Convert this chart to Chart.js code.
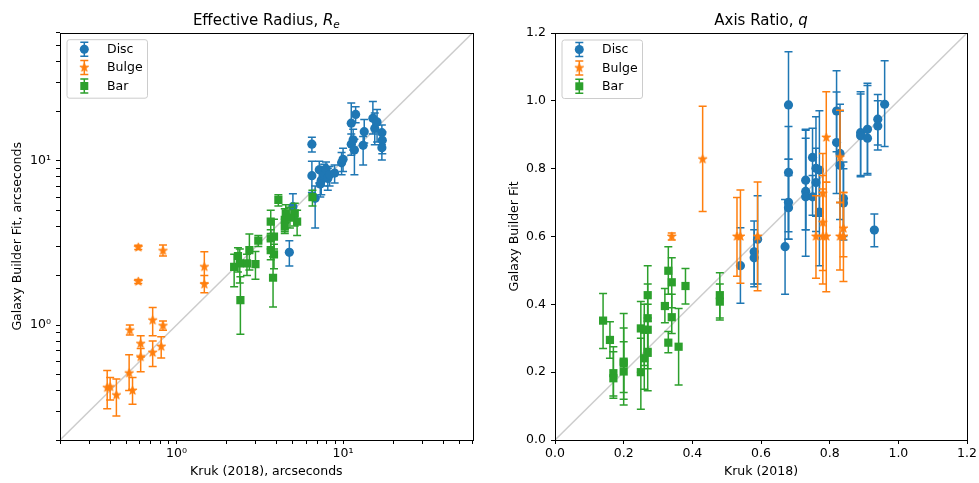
<!DOCTYPE html>
<html><head><meta charset="utf-8">
<script src="https://cdn.jsdelivr.net/npm/chart.js@4.4.1/dist/chart.umd.min.js"></script>
<style>
html,body{margin:0;padding:0;background:#fff;}
#wrap{position:relative;width:979px;height:483px;overflow:hidden;}
#c1{position:absolute;left:0;top:0;}
#c2{position:absolute;left:490px;top:0;}
</style></head><body>
<div id="wrap"><canvas id="c1" width="490" height="483"></canvas><canvas id="c2" width="489" height="483"></canvas></div>
<script>
// ---------- Effective radius (log-log) ----------
const reDiscX  = [6.5,6.5,6.8,5.0,4.76,7.2,7.4,7.7,7.9,8.1,8.3,8.9,7.3,9.8,10.0,11.2,11.2,11.7,11.9,11.5,13.2,13.4,15.1,15.5,16.0,17.1,17.2,17.1];
const reDiscY  = [12.6,8.1,5.9,5.25,2.77,8.8,7.6,8.3,8.9,7.8,8.2,8.4,7.2,9.7,10.2,16.9,12.6,11.6,19.1,13.4,12.4,15.0,18.1,15.7,17.2,14.8,13.3,12.0];
const reDiscLo = [11.3,6.4,3.9,4.5,2.29,7.3,6.2,7.0,7.5,6.6,7.0,7.3,6.0,8.2,8.6,12.5,10.8,8.2,17.0,11.6,9.4,12.8,14.5,12.5,13.0,12.5,11.0,10.1];
const reDiscHi = [13.9,9.9,7.0,6.3,3.26,9.9,9.2,9.5,9.8,9.0,9.2,9.4,8.5,11.2,11.9,22.4,14.5,13.5,21.3,15.5,14.0,17.8,22.9,19.5,20.5,16.5,15.0,13.4];

const reBulgeX  = [0.384,0.40,0.436,0.52,0.545,0.525,0.59,0.59,0.61,0.61,0.72,0.72,0.81,0.83,0.83,1.47,1.47];
const reBulgeY  = [0.416,0.42,0.375,0.51,0.40,0.93,2.97,1.84,0.77,0.64,1.07,0.68,0.74,0.99,2.83,2.26,1.77];
const reBulgeLo = [0.31,0.35,0.28,0.40,0.33,0.87,2.88,1.79,0.64,0.52,0.86,0.56,0.63,0.93,2.63,1.80,1.57];
const reBulgeHi = [0.53,0.48,0.47,0.66,0.48,1.00,3.06,1.89,0.86,0.72,1.28,0.80,0.85,1.06,3.07,2.79,2.00];

const reBarX  = [6.55,4.09,4.47,4.53,5.13,5.3,4.47,4.8,3.68,3.68,3.85,3.68,3.85,3.8,3.1,2.74,2.98,2.65,2.42,2.22,2.34,2.4];
const reBarY  = [6.0,5.77,4.36,4.78,4.78,4.26,3.97,4.5,4.26,3.37,3.45,2.86,2.69,1.94,3.26,2.86,2.35,2.37,1.42,2.26,2.63,2.37];
const reBarLo = [5.3,5.3,3.7,4.2,4.0,3.5,3.6,3.9,3.6,2.9,2.9,2.5,2.2,1.29,3.0,2.16,1.9,2.0,0.88,1.71,2.1,1.8];
const reBarHi = [6.6,6.2,5.1,5.4,5.5,5.0,4.4,5.2,5.0,3.8,4.4,3.3,3.1,2.6,3.5,3.58,2.8,2.7,1.97,2.7,2.95,2.9];

const reTickValues = [0.2,0.3,0.4,0.5,0.6,0.7,0.8,0.9,1,2,3,4,5,6,7,8,9,10,20,30,40,50,60];
const reTickLabels = {1:'10\u2070', 10:'10\u00B9'};

// ---------- Axis ratio (linear) ----------
const qDiscX  = [0.54,0.58,0.58,0.59,0.67,0.68,0.68,0.68,0.68,0.73,0.73,0.73,0.75,0.75,0.76,0.76,0.77,0.77,0.82,0.82,0.83,0.83,0.84,0.84,0.89,0.89,0.91,0.91,0.93,0.94,0.94,0.96];
const qDiscY  = [0.514,0.555,0.537,0.592,0.57,0.988,0.789,0.701,0.685,0.766,0.733,0.717,0.833,0.717,0.801,0.759,0.796,0.672,0.97,0.877,0.845,0.81,0.712,0.699,0.906,0.897,0.916,0.89,0.619,0.946,0.926,0.99];
const qDiscLo = [0.403,0.452,0.46,0.46,0.43,0.828,0.614,0.592,0.592,0.62,0.542,0.62,0.71,0.663,0.66,0.615,0.66,0.514,0.85,0.727,0.65,0.70,0.59,0.60,0.776,0.78,0.786,0.781,0.57,0.855,0.87,0.865];
const qDiscHi = [0.626,0.646,0.62,0.72,0.709,1.145,0.924,0.828,0.78,0.916,0.913,0.89,0.919,0.78,0.953,0.86,0.971,0.79,1.089,1.026,0.99,0.97,0.82,0.80,1.027,1.02,1.052,1.045,0.666,1.019,1.0,1.118];

const qBulgeX  = [0.34,0.43,0.53,0.54,0.59,0.76,0.78,0.78,0.78,0.79,0.79,0.83,0.83,0.84,0.84];
const qBulgeY  = [0.6,0.828,0.6,0.6,0.6,0.6,0.727,0.641,0.6,0.892,0.6,0.834,0.6,0.624,0.6];
const qBulgeLo = [0.59,0.674,0.483,0.462,0.44,0.477,0.6,0.5,0.46,0.76,0.437,0.70,0.501,0.467,0.54];
const qBulgeHi = [0.61,0.984,0.715,0.737,0.761,0.72,0.845,0.78,0.74,1.027,0.76,0.972,0.70,0.73,0.73];

const qBarX  = [0.14,0.16,0.17,0.17,0.20,0.20,0.20,0.25,0.25,0.26,0.26,0.27,0.27,0.27,0.27,0.32,0.33,0.33,0.34,0.34,0.36,0.38,0.48,0.48];
const qBarY  = [0.352,0.295,0.197,0.182,0.231,0.202,0.226,0.329,0.2,0.241,0.325,0.427,0.359,0.325,0.257,0.395,0.499,0.287,0.465,0.362,0.275,0.454,0.427,0.408];
const qBarLo = [0.27,0.241,0.13,0.123,0.14,0.103,0.12,0.2,0.091,0.15,0.22,0.35,0.27,0.21,0.145,0.346,0.43,0.257,0.39,0.314,0.162,0.401,0.36,0.354];
const qBarHi = [0.432,0.349,0.275,0.26,0.373,0.33,0.29,0.408,0.3,0.33,0.4,0.514,0.46,0.4,0.36,0.447,0.57,0.32,0.537,0.43,0.388,0.506,0.493,0.46];

const qTickValues = [0,0.2,0.4,0.6,0.8,1.0,1.2];

// ---------- styling ----------
const C_DISC = '#1f77b4', C_BULGE = '#ff7f0e', C_BAR = '#2ca02c';
const FONT = 'DejaVu Sans';
const FS = 12.5, TFS = 15;

function starImage(color, R) {
  const s = Math.ceil(R * 2 + 3);
  const c = document.createElement('canvas'); c.width = s; c.height = s;
  const g = c.getContext('2d');
  g.fillStyle = color; g.strokeStyle = color; g.lineWidth = 1; g.lineJoin = 'miter';
  g.beginPath();
  for (let i = 0; i < 10; i++) {
    const r = i % 2 ? R * 0.382 : R;
    const a = -Math.PI / 2 + i * Math.PI / 5;
    const px = s / 2 + r * Math.cos(a), py = s / 2 + r * Math.sin(a);
    if (i) g.lineTo(px, py); else g.moveTo(px, py);
  }
  g.closePath(); g.fill(); g.stroke();
  return c;
}
const STAR = starImage(C_BULGE, 4.6);

function pts(xs, ys) { return xs.map((x, i) => ({x: x, y: ys[i]})); }

const errorBarPlugin = {
  id: 'errorBars',
  beforeDatasetDraw(chart, args) {
    const ds = chart.data.datasets[args.index];
    if (!ds.errLo) return;
    const meta = chart.getDatasetMeta(args.index);
    const ys = chart.scales.y;
    const ctx = chart.ctx, a = chart.chartArea;
    ctx.save();
    ctx.beginPath(); ctx.rect(a.left, a.top, a.right - a.left, a.bottom - a.top); ctx.clip();
    ctx.strokeStyle = ds.backgroundColor; ctx.lineWidth = 1.5;
    meta.data.forEach((p, i) => {
      const yl = ys.getPixelForValue(ds.errLo[i]);
      const yh = ys.getPixelForValue(ds.errHi[i]);
      ctx.beginPath();
      ctx.moveTo(p.x, yl); ctx.lineTo(p.x, yh);
      ctx.moveTo(p.x - 4, yl); ctx.lineTo(p.x + 4, yl);
      ctx.moveTo(p.x - 4, yh); ctx.lineTo(p.x + 4, yh);
      ctx.stroke();
    });
    ctx.restore();
  }
};

function decorPlugin(titleParts) {
  return {
    id: 'decor',
    afterDraw(chart) {
      const ctx = chart.ctx, a = chart.chartArea;
      ctx.save();
      // frame
      ctx.strokeStyle = '#000'; ctx.lineWidth = 1;
      ctx.strokeRect(Math.round(a.left) + 0.5, Math.round(a.top) + 0.5, Math.round(a.right - a.left), Math.round(a.bottom - a.top));
      // title
      let w = 0;
      titleParts.forEach(p => { ctx.font = p.f; p.w = ctx.measureText(p.t).width; w += p.w; });
      let x = (a.left + a.right) / 2 - w / 2;
      ctx.fillStyle = '#000'; ctx.textBaseline = 'alphabetic'; ctx.textAlign = 'left';
      titleParts.forEach(p => { ctx.font = p.f; ctx.fillText(p.t, x, 25 + (p.dy || 0)); x += p.w; });
      // legend
      const lx = a.left + 6.5, ly = a.top + 6.5, lw = 80.5, lh = 58.5;
      ctx.beginPath();
      if (ctx.roundRect) ctx.roundRect(lx + 0.5, ly + 0.5, lw, lh, 2.5); else ctx.rect(lx + 0.5, ly + 0.5, lw, lh);
      ctx.fillStyle = 'rgba(255,255,255,0.8)'; ctx.fill();
      ctx.strokeStyle = '#cccccc'; ctx.lineWidth = 1; ctx.stroke();
      const entries = [['Disc', C_DISC, 'circle'], ['Bulge', C_BULGE, 'star'], ['Bar', C_BAR, 'rect']];
      entries.forEach((e, i) => {
        const cy = a.top + 16.5 + i * 18.4, cx = a.left + 24.3;
        ctx.strokeStyle = e[1]; ctx.fillStyle = e[1]; ctx.lineWidth = 1.5;
        ctx.beginPath();
        ctx.moveTo(cx, cy - 7); ctx.lineTo(cx, cy + 7);
        ctx.moveTo(cx - 4, cy - 7); ctx.lineTo(cx + 4, cy - 7);
        ctx.moveTo(cx - 4, cy + 7); ctx.lineTo(cx + 4, cy + 7);
        ctx.stroke();
        if (e[2] === 'circle') { ctx.beginPath(); ctx.arc(cx, cy, 4.5, 0, Math.PI * 2); ctx.fill(); }
        else if (e[2] === 'rect') { ctx.fillRect(cx - 4, cy - 4, 8, 8); }
        else { ctx.drawImage(STAR, cx - STAR.width / 2, cy - STAR.height / 2); }
        ctx.fillStyle = '#000'; ctx.font = FS + 'px "' + FONT + '"'; ctx.textBaseline = 'middle';
        ctx.fillText(e[0], a.left + 47, cy + 0.5);
      });
      ctx.restore();
    }
  };
}

function makeDatasets(sets, diagMin, diagMax) {
  return [
    {label: 'Disc', data: pts(sets[0][0], sets[0][1]), errLo: sets[0][2], errHi: sets[0][3], backgroundColor: C_DISC, borderColor: C_DISC, pointStyle: 'circle', pointRadius: 4.6, pointBorderWidth: 0, order: 2},
    {label: 'Bulge', data: pts(sets[1][0], sets[1][1]), errLo: sets[1][2], errHi: sets[1][3], backgroundColor: C_BULGE, borderColor: C_BULGE, pointStyle: STAR, pointRadius: 5, order: 1},
    {label: 'Bar', data: pts(sets[2][0], sets[2][1]), errLo: sets[2][2], errHi: sets[2][3], backgroundColor: C_BAR, borderColor: C_BAR, pointStyle: 'rect', pointRadius: 5.8, pointBorderWidth: 0, order: 0},
    {label: 'diag', data: [{x: diagMin, y: diagMin}, {x: diagMax, y: diagMax}], showLine: true, borderColor: 'rgba(128,128,128,0.4)', borderWidth: 1.5, pointRadius: 0, order: 3}
  ];
}

function axisCommon(ticksCb, vals, fitSize, horiz, title, titlePad) {
  return {
    grid: {drawOnChartArea: false, drawTicks: true, tickLength: 4, tickColor: '#000', tickWidth: 1},
    border: {display: false},
    afterBuildTicks: s => { s.ticks = vals.map(v => ({value: v})); },
    afterFit: s => { if (horiz) s.height = fitSize; else s.width = fitSize; },
    ticks: {autoSkip: false, maxRotation: 0, color: '#000', font: {family: FONT, size: FS}, padding: horiz ? 2 : 5, callback: ticksCb},
    title: {display: true, text: title, color: '#000', font: {family: FONT, size: FS}, padding: titlePad}
  };
}

Chart.defaults.animation = false;

new Chart(document.getElementById('c1'), {
  type: 'scatter',
  data: {datasets: makeDatasets([[reDiscX, reDiscY, reDiscLo, reDiscHi], [reBulgeX, reBulgeY, reBulgeLo, reBulgeHi], [reBarX, reBarY, reBarLo, reBarHi]], 0.2, 60)},
  options: {
    responsive: false, animation: false,
    layout: {padding: {left: 0, right: 17.3, top: 32.7, bottom: 0}},
    plugins: {legend: {display: false}, tooltip: {enabled: false}},
    scales: {
      x: Object.assign({type: 'logarithmic', min: 0.2, max: 60},
        axisCommon(v => reTickLabels[v] || '', reTickValues, 43, true, 'Kruk (2018), arcseconds', {top: 0, bottom: 3.5})),
      y: Object.assign({type: 'logarithmic', min: 0.2, max: 60},
        axisCommon(v => reTickLabels[v] || '', reTickValues, 60, false, 'Galaxy Builder Fit, arcseconds', {top: 10.5, bottom: 0}))
    }
  },
  plugins: [errorBarPlugin, decorPlugin([
    {t: 'Effective Radius, ', f: TFS + 'px "' + FONT + '"'},
    {t: 'R', f: 'italic ' + TFS + 'px "' + FONT + '"'},
    {t: 'e', f: 'italic 10.5px "' + FONT + '"', dy: 3}
  ])]
});

new Chart(document.getElementById('c2'), {
  type: 'scatter',
  data: {datasets: makeDatasets([[qDiscX, qDiscY, qDiscLo, qDiscHi], [qBulgeX, qBulgeY, qBulgeLo, qBulgeHi], [qBarX, qBarY, qBarLo, qBarHi]], 0, 1.2)},
  options: {
    responsive: false, animation: false,
    layout: {padding: {left: 0, right: 11.7, top: 33, bottom: 0}},
    plugins: {legend: {display: false}, tooltip: {enabled: false}},
    scales: {
      x: Object.assign({type: 'linear', min: 0, max: 1.2},
        axisCommon(v => Number(v).toFixed(1), qTickValues, 43, true, 'Kruk (2018)', {top: 0, bottom: 3.5})),
      y: Object.assign({type: 'linear', min: 0, max: 1.2},
        axisCommon(v => Number(v).toFixed(1), qTickValues, 65, false, 'Galaxy Builder Fit', {top: 17.5, bottom: 0}))
    }
  },
  plugins: [errorBarPlugin, decorPlugin([
    {t: 'Axis Ratio, ', f: TFS + 'px "' + FONT + '"'},
    {t: 'q', f: 'italic ' + TFS + 'px "' + FONT + '"'}
  ])]
});
</script>
</body></html>
